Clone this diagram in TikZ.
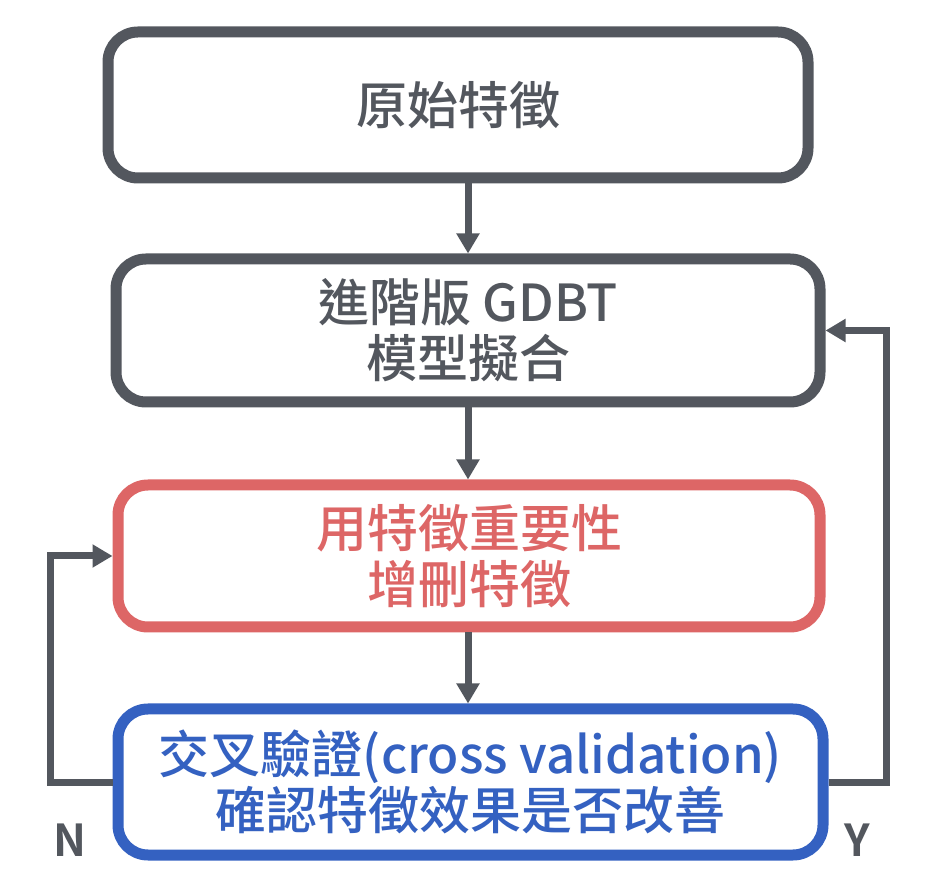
\documentclass[tikz,border=0pt]{standalone}
\usepackage{fontspec}
\setmainfont{Noto Sans CJK TC}[BoldFont={Noto Sans CJK TC Medium}]
\newfontfamily\ynfont{Noto Sans CJK TC Bold}
\usepackage{tikz}
\usetikzlibrary{arrows.meta,positioning}

\definecolor{boxgray}{HTML}{53575E}
\definecolor{boxred}{HTML}{DD6666}
\definecolor{boxblue}{HTML}{3461C1}

\begin{document}
\begin{tikzpicture}
[x=0.5pt,y=-0.5pt,
step box/.style={draw,rounded corners=15pt,line width=5.5pt,fill=white,align=center,
  font=\fontsize{25.5}{28}\selectfont\bfseries,inner sep=0pt},
flow/.style={draw=boxgray,line width=3.5pt,-{Triangle[length=10pt,width=11pt]}},
yn/.style={text=boxgray,font=\fontsize{22}{24}\selectfont\ynfont}]

\useasboundingbox (0,0) rectangle (926,886);

\node[step box,draw=boxgray,text=boxgray,minimum width=350pt,minimum height=73pt] (raw) at (458,105) {原始特徵};
\node[step box,draw=boxgray,text=boxgray,minimum width=352pt,minimum height=71.5pt] (fit) at (468,330.5) {進階版 GDBT\\模型擬合};
\node[step box,draw=boxred,text=boxred,minimum width=351pt,minimum height=71pt] (select) at (469,556) {用特徵重要性\\增刪特徵};
\node[step box,draw=boxblue,text=boxblue,minimum width=352.5pt,minimum height=73pt] (cv) at (470.5,782) {交叉驗證(cross validation)\\確認特徵效果是否改善};

\coordinate (lx) at (50,0);
\coordinate (rx) at (886,0);

\draw[flow] (raw.south -| fit.north) -- (fit.north);
\draw[flow] (fit.south) -- (select.north -| fit.south);
\draw[flow] (select.south -| fit.south) -- (cv.north -| fit.south);

\draw[flow] (cv.west) -- (cv.west -| lx) -- (select.west -| lx) -- (select.west);
\draw[flow] (cv.east) -- (cv.east -| rx) -- (fit.east -| rx) -- (fit.east);

\node[yn] (no) at (70,840) {N};
\node[yn] (yes) at (857,840) {Y};
\end{tikzpicture}
\end{document}
